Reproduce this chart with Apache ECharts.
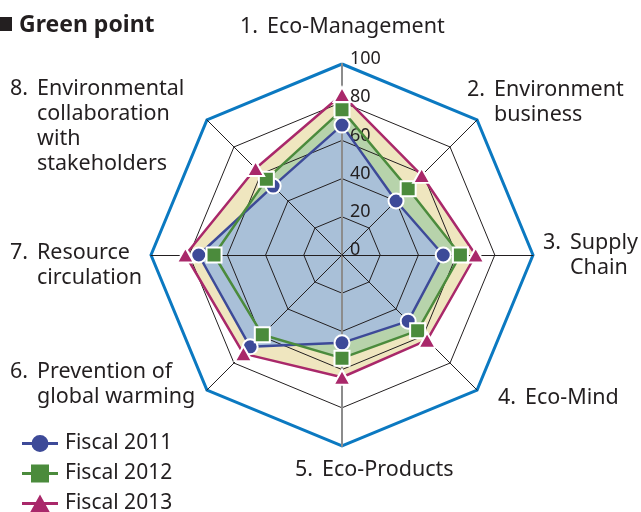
<!DOCTYPE html>
<html>
<head>
<meta charset="utf-8">
<script src="https://cdn.jsdelivr.net/npm/echarts@6/dist/echarts.min.js"></script>
<style>
  html, body { margin: 0; padding: 0; background: #fff; }
  #chart { width: 641px; height: 512px; }
</style>
</head>
<body>
<div id="chart"></div>
<script>
const itemNumbers = ['1.', '2.', '3.', '4.', '5.', '6.', '7.', '8.'];
const itemNames = [
  'Eco-Management',
  'Environment\nbusiness',
  'Supply\nChain',
  'Eco-Mind',
  'Eco-Products',
  'Prevention of\nglobal warming',
  'Resource\ncirculation',
  'Environmental\ncollaboration\nwith\nstakeholders'
];
const tickValues = [0, 20, 40, 60, 80, 100];
const seriesNames = ['Fiscal 2011', 'Fiscal 2012', 'Fiscal 2013'];
const fiscal2011 = [68, 40, 53, 49, 46, 68, 75, 51];
const fiscal2012 = [76, 49, 62, 56, 54, 59, 67, 56];
const fiscal2013 = [84, 59, 70, 63, 64, 73, 82, 64];

const FONT = '"Noto Sans", "Open Sans", sans-serif';
const TXT = '#231f20';
const lineColors = ['#3d4a98', '#4b8b3c', '#a9286a'];
const fillColors = ['#a9c0d8', '#b7d3ab', '#efe6bf'];
const CENTER = [342, 255];
const RADIUS = 191;

// echarts goes round the radar counterclockwise, the picture goes clockwise
const order = [0, 7, 6, 5, 4, 3, 2, 1];
const pick = arr => order.map(i => arr[i]);
const maxVal = tickValues[tickValues.length - 1];

const indicators = order.map(i => {
  const vertical = i === 0 || i === 4;
  return {
    name: itemNames[i],
    min: 0,
    max: maxVal,
    axisLine: { lineStyle: { color: vertical ? '#8c8c8c' : TXT, width: vertical ? 2 : 1 } },
    axisLabel: { show: i === 0 }
  };
});
const outerIndicators = order.map(i => ({ name: itemNames[i], min: 0, max: maxVal }));

// label anchors: left edge of the number, middle of the first line
const labelPos = [[240, 27], [467, 90], [543, 243], [498, 398], [295, 470], [10, 372], [10, 253], [10, 89]];
const LH = 25;
const labelGraphics = [];
itemNames.forEach((name, i) => {
  const [x, y] = labelPos[i];
  labelGraphics.push({
    type: 'text', silent: true,
    style: { text: itemNumbers[i], x: x, y: y - LH / 2, fill: TXT, fontSize: 21.5, fontFamily: FONT, lineHeight: LH, verticalAlign: 'top' }
  });
  labelGraphics.push({
    type: 'text', silent: true,
    style: { text: name, x: x + 27, y: y - LH / 2, fill: TXT, fontSize: 21.5, fontFamily: FONT, lineHeight: LH, verticalAlign: 'top' }
  });
});

const icons = [
  'path://M0,7.5H36V10.5H0Z M9.5,9A8.5,8.5,0,1,1,26.5,9A8.5,8.5,0,1,1,9.5,9Z',
  'path://M0,7.5H36V10.5H0Z M9,0H27V18H9Z',
  'path://M0,7.5H36V10.5H0Z M18,0L28,18H8Z'
];
const symbols = ['circle', 'rect', 'triangle'];
const symbolSizes = [15, 15, [17, 15]];
const dataSets = [fiscal2011, fiscal2012, fiscal2013];

const series = [];
// fills first, biggest at the bottom
[2, 1, 0].forEach(k => {
  series.push({
    type: 'radar',
    name: 'area' + k,
    radarIndex: 0,
    z: 1,
    silent: true,
    symbol: 'none',
    lineStyle: { width: 0, opacity: 0 },
    areaStyle: { color: fillColors[k], opacity: 1 },
    data: [{ value: pick(dataSets[k]) }]
  });
});
[0, 1, 2].forEach(k => {
  series.push({
    type: 'radar',
    name: seriesNames[k],
    radarIndex: 0,
    z: 5,
    symbol: symbols[k],
    symbolSize: symbolSizes[k],
    itemStyle: { color: lineColors[k], borderColor: '#fff', borderWidth: 2 },
    lineStyle: { color: lineColors[k], width: 2.5 },
    data: [{ value: pick(dataSets[k]), name: seriesNames[k] }]
  });
});

const chart = echarts.init(document.getElementById('chart'));
chart.setOption({
  animation: false,
  textStyle: { fontFamily: FONT },
  legend: {
    orient: 'vertical',
    left: 22,
    top: 433,
    height: 120,
    padding: 0,
    itemWidth: 36,
    itemHeight: 18,
    itemGap: 9,
    selectedMode: false,
    itemStyle: { borderWidth: 0 },
    textStyle: { fontSize: 21, color: TXT, fontFamily: FONT, padding: [0, 0, 0, 2] },
    data: seriesNames.map((n, k) => ({ name: n, icon: icons[k] }))
  },
  radar: [
    {
      center: CENTER,
      radius: RADIUS,
      shape: 'polygon',
      splitNumber: tickValues.length - 1,
      z: 3,
      indicator: indicators,
      axisName: { show: false },
      axisTick: { show: false },
      axisLabel: {
        show: false,
        color: TXT,
        fontSize: 18,
        fontFamily: FONT,
        margin: -8,
        align: 'left',
        lineHeight: 10,
        verticalAlign: 'bottom'
      },
      splitLine: { lineStyle: { color: TXT, width: 1 } },
      splitArea: { show: false }
    },
    {
      center: CENTER,
      radius: RADIUS,
      shape: 'polygon',
      splitNumber: 1,
      z: 3,
      indicator: outerIndicators,
      axisName: { show: false },
      axisLine: { show: false },
      axisTick: { show: false },
      axisLabel: { show: false },
      splitLine: { lineStyle: { color: '#0b79c1', width: 3 } },
      splitArea: { show: false }
    }
  ],
  graphic: [
    { type: 'rect', silent: true, shape: { x: 0, y: 17, width: 12, height: 14 }, style: { fill: TXT } },
    { type: 'text', silent: true, style: { text: 'Green point', x: 19, y: 25, verticalAlign: 'middle', fill: TXT, fontSize: 23, fontWeight: 'bold', fontFamily: FONT } }
  ].concat(labelGraphics),
  series: series
});
</script>
</body>
</html>
